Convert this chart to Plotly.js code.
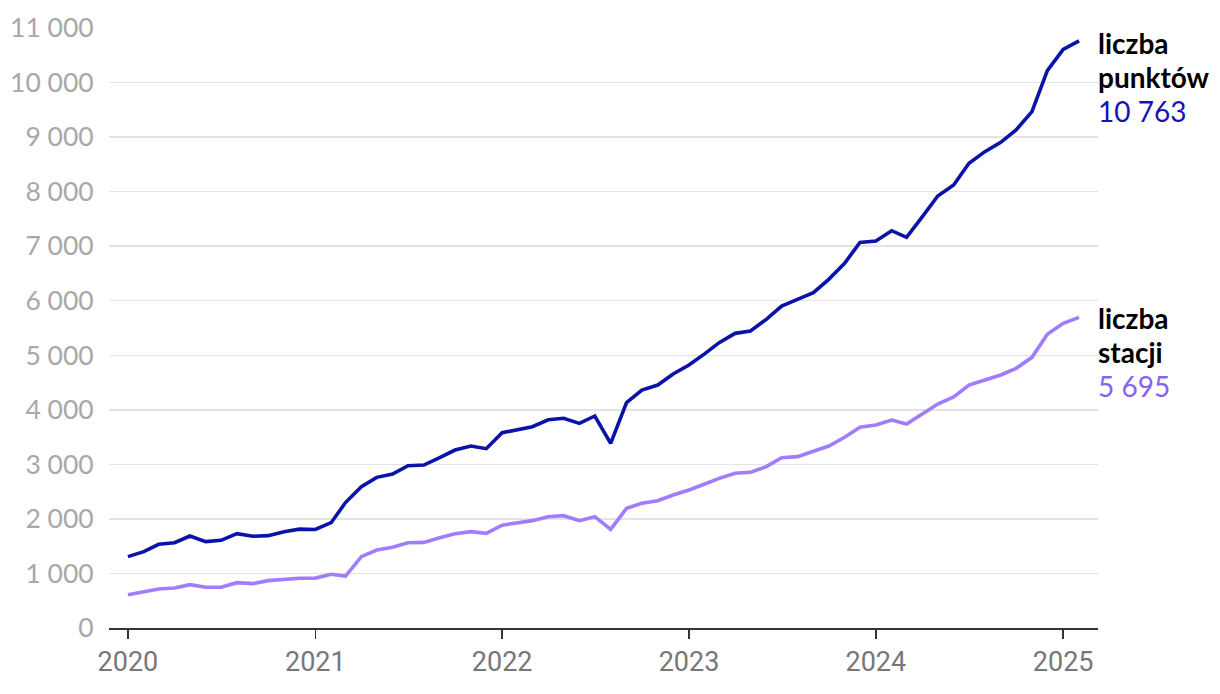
<!DOCTYPE html>
<html>
<head>
<meta charset="utf-8">
<script src="https://cdn.plot.ly/plotly-3.0.1.min.js"></script>
<style>
html,body{margin:0;padding:0;background:#fff;}
#chart{width:1220px;height:694px;}
</style>
</head>
<body>
<div id="chart"></div>
<script>
const months = [
 "2020-01","2020-02","2020-03","2020-04","2020-05","2020-06","2020-07","2020-08","2020-09","2020-10","2020-11","2020-12",
 "2021-01","2021-02","2021-03","2021-04","2021-05","2021-06","2021-07","2021-08","2021-09","2021-10","2021-11","2021-12",
 "2022-01","2022-02","2022-03","2022-04","2022-05","2022-06","2022-07","2022-08","2022-09","2022-10","2022-11","2022-12",
 "2023-01","2023-02","2023-03","2023-04","2023-05","2023-06","2023-07","2023-08","2023-09","2023-10","2023-11","2023-12",
 "2024-01","2024-02","2024-03","2024-04","2024-05","2024-06","2024-07","2024-08","2024-09","2024-10","2024-11","2024-12",
 "2025-01","2025-02"
];
const punkty = [
 1308,1399,1534,1564,1687,1583,1607,1729,1681,1693,1766,1812,
 1806,1931,2300,2591,2762,2823,2976,2988,3123,3263,3337,3288,
 3580,3635,3691,3818,3844,3752,3887,3386,4131,4363,4455,4657,
 4822,5030,5231,5402,5445,5659,5903,6025,6148,6392,6686,7070,
 7095,7284,7162,7541,7920,8122,8519,8733,8904,9130,9466,10218,
 10609,10763
];
const stacje = [
 611,660,715,733,794,746,746,831,813,868,898,911,
 915,984,953,1308,1430,1479,1564,1570,1656,1729,1766,1736,
 1885,1931,1968,2041,2059,1968,2041,1809,2194,2286,2334,2438,
 2530,2640,2744,2836,2854,2958,3123,3141,3233,3337,3496,3679,
 3722,3813,3740,3923,4107,4235,4455,4547,4638,4761,4962,5384,
 5586,5695
];
const seriesNames = [["liczba", "punktów"], ["liczba", "stacji"]];
const yearTicks = ["2020-01-01","2021-01-01","2022-01-01","2023-01-01","2024-01-01","2025-01-01"];
const yearLabels = ["2020","2021","2022","2023","2024","2025"];
const yTicks = [0,1000,2000,3000,4000,5000,6000,7000,8000,9000,10000,11000];

const BLUE = "#0b12a8", PURPLE = "#a07cff";
const BLUE_TXT = "#1414b4", PURPLE_TXT = "#8463f2";
const fmt = v => String(v).replace(/\B(?=(\d{3})+(?!\d))/g, " ");
const dates = months.map(m => m + "-01");

const traces = [
  {x: dates, y: punkty, type: "scatter", mode: "lines",
   line: {color: BLUE, width: 3.6}, hoverinfo: "skip"},
  {x: dates, y: stacje, type: "scatter", mode: "lines",
   line: {color: PURPLE, width: 3.6}, hoverinfo: "skip"}
];

function labelBlock(names, value, anchorY, color) {
  const lines = [
    {t: "<b>" + names[0] + "</b>", c: "#000", s: 34},
    {t: "<b>" + names[1] + "</b>", c: "#000", s: 0},
    {t: fmt(value), c: color, s: -34}
  ];
  return lines.map(l => ({
    xref: "paper", yref: "y", x: 1, y: anchorY, xanchor: "left", yanchor: "middle",
    xshift: -2, yshift: l.s, align: "left", showarrow: false, text: l.t,
    font: {family: "Lato, sans-serif", size: 28, color: l.c}
  }));
}

const layout = {
  width: 1220, height: 694,
  margin: {l: 109, r: 122, t: 28, b: 66},
  paper_bgcolor: "#fff", plot_bgcolor: "#fff",
  showlegend: false,
  separators: ", ",
  xaxis: {
    type: "date",
    range: ["2019-11-25", "2025-03-10"],
    tickvals: yearTicks, ticktext: yearLabels,
    showgrid: false, zeroline: false,
    showline: true, linecolor: "#333", linewidth: 2,
    ticks: "outside", ticklen: 9, tickwidth: 1.5, tickcolor: "#333",
    tickfont: {family: "Roboto, 'Liberation Sans', sans-serif", size: 27, color: "#777"},
    fixedrange: true
  },
  yaxis: {
    range: [0, 11000],
    tickvals: yTicks, tickformat: ",d",
    showgrid: true, gridcolor: "#e3e3e3", gridwidth: 1.5,
    zeroline: false, showline: false,
    ticks: "outside", ticklen: 9, tickcolor: "rgba(0,0,0,0)",
    tickfont: {family: "Lato, sans-serif", size: 26.5, color: "#a8a8a8"},
    fixedrange: true
  },
  annotations: [].concat(
    labelBlock(seriesNames[0], punkty[punkty.length-1], 10110, BLUE_TXT),
    labelBlock(seriesNames[1], stacje[stacje.length-1], 5060, PURPLE_TXT)
  )
};

Plotly.newPlot("chart", traces, layout, {displayModeBar: false, staticPlot: true});
</script>
</body>
</html>
